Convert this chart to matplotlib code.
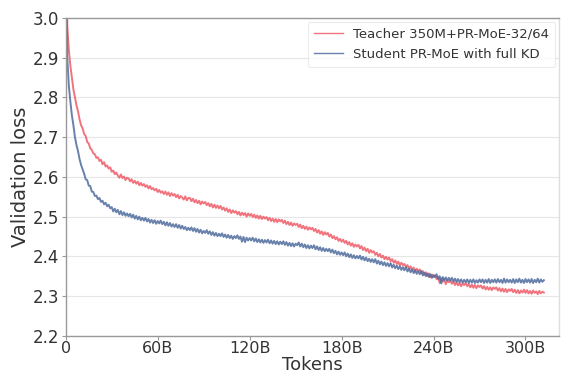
import matplotlib
matplotlib.use("Agg")
import matplotlib.pyplot as plt

# x positions in billions of tokens (one reading per 1B)
tokens = list(range(0, 313))

teacher = [
    3.30, 2.98, 2.92, 2.88, 2.85, 2.82, 2.80, 2.78, 2.765, 2.745, 2.73,
    2.722, 2.708, 2.703, 2.688, 2.684, 2.672, 2.668, 2.659, 2.657, 2.648,
    2.649, 2.640, 2.643, 2.632, 2.637, 2.626, 2.629, 2.621, 2.624, 2.613,
    2.616, 2.607, 2.611, 2.603, 2.598, 2.606, 2.597, 2.601, 2.592, 2.598,
    2.596, 2.589, 2.594, 2.585, 2.590, 2.583, 2.588, 2.579, 2.585, 2.578,
    2.582, 2.575, 2.579, 2.571, 2.577, 2.569, 2.572, 2.566, 2.570, 2.562,
    2.567, 2.560, 2.564, 2.557, 2.563, 2.555, 2.561, 2.552, 2.559, 2.553,
    2.557, 2.549, 2.555, 2.546, 2.552, 2.548, 2.543, 2.551, 2.541, 2.547,
    2.547, 2.539, 2.545, 2.536, 2.542, 2.534, 2.540, 2.531, 2.538, 2.533,
    2.537, 2.529, 2.534, 2.526, 2.532, 2.523, 2.530, 2.522, 2.528, 2.521,
    2.527, 2.518, 2.523, 2.515, 2.521, 2.512, 2.518, 2.509, 2.516, 2.510,
    2.514, 2.506, 2.512, 2.503, 2.510, 2.504, 2.509, 2.500, 2.508, 2.502,
    2.507, 2.499, 2.505, 2.497, 2.503, 2.495, 2.502, 2.494, 2.500, 2.495,
    2.499, 2.491, 2.497, 2.489, 2.495, 2.487, 2.494, 2.486, 2.493, 2.488,
    2.492, 2.484, 2.490, 2.481, 2.487, 2.479, 2.485, 2.477, 2.483, 2.479,
    2.482, 2.474, 2.480, 2.471, 2.477, 2.469, 2.475, 2.467, 2.473, 2.468,
    2.472, 2.464, 2.469, 2.460, 2.466, 2.457, 2.463, 2.454, 2.461, 2.455,
    2.459, 2.450, 2.455, 2.446, 2.451, 2.443, 2.448, 2.439, 2.444, 2.437,
    2.442, 2.434, 2.439, 2.430, 2.436, 2.427, 2.433, 2.424, 2.430, 2.425,
    2.429, 2.420, 2.426, 2.416, 2.422, 2.413, 2.419, 2.409, 2.416, 2.410,
    2.413, 2.404, 2.409, 2.400, 2.406, 2.397, 2.402, 2.393, 2.399, 2.392,
    2.397, 2.388, 2.393, 2.384, 2.390, 2.381, 2.387, 2.377, 2.384, 2.378,
    2.381, 2.373, 2.378, 2.369, 2.375, 2.366, 2.372, 2.362, 2.369, 2.363,
    2.367, 2.358, 2.363, 2.354, 2.360, 2.351, 2.357, 2.347, 2.354, 2.348,
    2.352, 2.343, 2.348, 2.333, 2.345, 2.336, 2.342, 2.330, 2.340, 2.335,
    2.339, 2.331, 2.337, 2.328, 2.335, 2.327, 2.333, 2.325, 2.332, 2.328,
    2.333, 2.325, 2.330, 2.322, 2.329, 2.321, 2.328, 2.320, 2.327, 2.323,
    2.327, 2.319, 2.325, 2.317, 2.323, 2.316, 2.322, 2.315, 2.322, 2.318,
    2.322, 2.314, 2.320, 2.312, 2.319, 2.311, 2.318, 2.310, 2.317, 2.313,
    2.318, 2.310, 2.316, 2.308, 2.315, 2.307, 2.314, 2.309, 2.316, 2.308,
    2.315, 2.307, 2.313, 2.306, 2.314, 2.308, 2.312, 2.305, 2.313, 2.307, 2.311, 2.309,
]

student = [
    3.30, 2.90, 2.83, 2.79, 2.755, 2.73, 2.70, 2.68, 2.665, 2.645, 2.63,
    2.619, 2.608, 2.594, 2.592, 2.578, 2.577, 2.563, 2.562, 2.552, 2.553,
    2.544, 2.547, 2.537, 2.540, 2.531, 2.535, 2.526, 2.530, 2.521, 2.524,
    2.513, 2.520, 2.511, 2.517, 2.506, 2.514, 2.504, 2.511, 2.502, 2.508,
    2.501, 2.507, 2.498, 2.505, 2.495, 2.502, 2.493, 2.500, 2.491, 2.497,
    2.490, 2.497, 2.488, 2.494, 2.485, 2.492, 2.484, 2.491, 2.482, 2.489,
    2.483, 2.490, 2.481, 2.487, 2.478, 2.486, 2.477, 2.484, 2.475, 2.481,
    2.474, 2.481, 2.472, 2.479, 2.470, 2.477, 2.469, 2.474, 2.466, 2.472,
    2.466, 2.473, 2.464, 2.471, 2.462, 2.469, 2.460, 2.467, 2.458, 2.464,
    2.459, 2.466, 2.457, 2.463, 2.454, 2.461, 2.452, 2.459, 2.451, 2.457,
    2.451, 2.458, 2.449, 2.455, 2.447, 2.454, 2.446, 2.452, 2.444, 2.451,
    2.446, 2.453, 2.444, 2.450, 2.437, 2.449, 2.436, 2.447, 2.440, 2.446,
    2.440, 2.447, 2.438, 2.445, 2.436, 2.443, 2.435, 2.442, 2.434, 2.441,
    2.435, 2.442, 2.433, 2.440, 2.432, 2.439, 2.431, 2.438, 2.430, 2.437,
    2.431, 2.438, 2.429, 2.436, 2.427, 2.434, 2.426, 2.433, 2.425, 2.432,
    2.428, 2.435, 2.425, 2.432, 2.423, 2.430, 2.421, 2.428, 2.420, 2.427,
    2.421, 2.428, 2.418, 2.425, 2.416, 2.423, 2.414, 2.421, 2.413, 2.419,
    2.413, 2.419, 2.410, 2.417, 2.408, 2.414, 2.405, 2.412, 2.404, 2.410,
    2.403, 2.410, 2.400, 2.407, 2.398, 2.405, 2.396, 2.403, 2.395, 2.401,
    2.395, 2.402, 2.392, 2.399, 2.390, 2.397, 2.388, 2.394, 2.386, 2.393,
    2.385, 2.393, 2.382, 2.389, 2.380, 2.387, 2.378, 2.385, 2.376, 2.383,
    2.375, 2.383, 2.372, 2.379, 2.370, 2.377, 2.368, 2.375, 2.366, 2.373,
    2.365, 2.373, 2.362, 2.369, 2.360, 2.367, 2.358, 2.365, 2.356, 2.363,
    2.355, 2.363, 2.352, 2.359, 2.350, 2.357, 2.348, 2.355, 2.346, 2.353,
    2.348, 2.355, 2.343, 2.350, 2.332, 2.348, 2.340, 2.347, 2.339, 2.346,
    2.339, 2.346, 2.337, 2.344, 2.336, 2.343, 2.335, 2.342, 2.334, 2.341,
    2.335, 2.342, 2.333, 2.341, 2.334, 2.342, 2.333, 2.340, 2.334, 2.342,
    2.335, 2.342, 2.333, 2.341, 2.334, 2.343, 2.333, 2.341, 2.335, 2.342,
    2.334, 2.343, 2.335, 2.341, 2.333, 2.344, 2.334, 2.342, 2.335, 2.341,
    2.334, 2.343, 2.333, 2.342, 2.335, 2.344, 2.334, 2.341, 2.333, 2.343,
    2.335, 2.342, 2.334, 2.343, 2.333, 2.341, 2.335, 2.344, 2.334, 2.342, 2.336, 2.340,
]

labels = ["Teacher 350M+PR-MoE-32/64", "Student PR-MoE with full KD"]
colors = ["#ee5a66", "#4e6c9e"]
xticks = [0, 60, 120, 180, 240, 300]
xticklabels = ["0", "60B", "120B", "180B", "240B", "300B"]
yticks = [2.2, 2.3, 2.4, 2.5, 2.6, 2.7, 2.8, 2.9, 3.0]

fig = plt.figure(figsize=(5.62, 3.74), dpi=100)
ax = fig.add_axes([0.117, 0.102, 0.878, 0.850])

ax.plot(tokens[:len(teacher)], teacher, color=colors[0], lw=1.4, alpha=0.85, label=labels[0])
ax.plot(tokens[:len(student)], student, color=colors[1], lw=1.4, alpha=0.85, label=labels[1])

ax.set_xlim(0, 322)
ax.set_ylim(2.2, 3.0)
ax.set_xticks(xticks)
ax.set_xticklabels(xticklabels)
ax.set_yticks(yticks)
ax.set_yticklabels([f"{v:.1f}" for v in yticks])
ax.yaxis.grid(True, color="#e6e6e6", lw=0.8)
ax.set_axisbelow(True)

for s in ax.spines.values():
    s.set_color("#999999")
    s.set_linewidth(1.0)
ax.spines["right"].set_color("#dddddd")

ax.tick_params(axis="y", labelsize=12, colors="#333333", length=3, width=0.8, pad=2)
ax.tick_params(axis="x", labelsize=11.5, colors="#333333", length=3, width=0.8, pad=1)
ax.tick_params(axis="both", color="#999999")
ax.set_xlabel("Tokens", fontsize=13, color="#333333", labelpad=0)
ax.set_ylabel("Validation loss", fontsize=14, color="#333333", labelpad=2)

leg = ax.legend(loc="upper right", fontsize=9.5, frameon=True, handlelength=2.2,
                borderpad=0.45, labelspacing=0.55, fancybox=True, borderaxespad=0.3)
leg.get_frame().set_edgecolor("#e6e6e6")
leg.get_frame().set_linewidth(0.8)
for t in leg.get_texts():
    t.set_color("#333333")
for h in leg.get_lines():
    h.set_linewidth(1.0)

fig.savefig("out.png", dpi=100)
